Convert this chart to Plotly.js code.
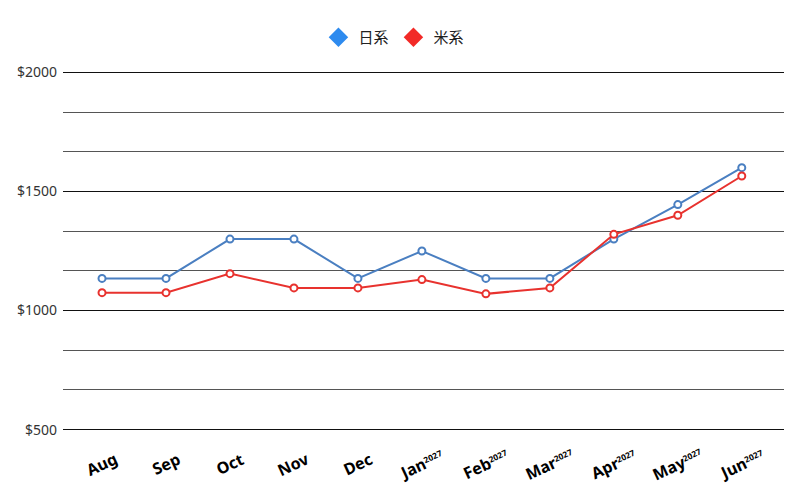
<!DOCTYPE html>
<html>
<head>
<meta charset="utf-8">
<script src="https://cdn.plot.ly/plotly-3.0.1.min.js"></script>
<style>
    html, body { margin: 0; padding: 0; background: #fff; }
    #chart { width: 800px; height: 500px; }
</style>
</head>
<body>
<div id="chart"></div>
<script>
// month categories and their printed labels
const months = ['Aug', 'Sep', 'Oct', 'Nov', 'Dec', 'Jan', 'Feb', 'Mar', 'Apr', 'May', 'Jun'];
const monthYears = ['', '', '', '', '', '2027', '2027', '2027', '2027', '2027', '2027'];

// series values ($)
const japanese = [1135, 1135, 1300, 1300, 1135, 1250, 1135, 1135, 1300, 1445, 1600];
const american = [1075, 1075, 1155, 1095, 1095, 1130, 1070, 1095, 1320, 1400, 1565];

const yTickVals = [500, 1000, 1500, 2000];
const yTickText = ['$500', '$1000', '$1500', '$2000'];

const LINE_BLUE = '#4a7fc1';
const LINE_RED = '#e8322e';
const KEY_BLUE = '#2e8bef';
const KEY_RED = '#f22a27';
const FONT = '"Noto Sans", "Noto Sans CJK JP", sans-serif';

function lineTrace(name, values, color) {
    return {
        type: 'scatter',
        mode: 'lines+markers',
        name: name,
        x: months,
        y: values,
        showlegend: false,
        line: { color: color, width: 2 },
        marker: { symbol: 'circle', size: 7, color: '#fff', line: { color: color, width: 2 } },
        hoverinfo: 'x+y'
    };
}

// legend-only entries, the key uses brighter diamonds than the lines
function keyTrace(name, color) {
    return {
        type: 'scatter',
        mode: 'markers',
        name: name,
        x: [null],
        y: [null],
        marker: { symbol: 'diamond', size: 15, color: color },
        hoverinfo: 'skip'
    };
}

const traces = [
    lineTrace('日系', japanese, LINE_BLUE),
    lineTrace('米系', american, LINE_RED),
    keyTrace('日系', KEY_BLUE),
    keyTrace('米系', KEY_RED)
];

function monthLabel(i) {
    const year = monthYears[i] ? '<span style="font-size:12px"><sup>' + monthYears[i] + '</sup></span>' : '';
    return '<b>' + months[i] + year + '</b>';
}

const labelNotes = months.map((m, i) => ({
    x: m,
    y: 0,
    xref: 'x',
    yref: 'paper',
    yanchor: 'middle',
    xanchor: 'center',
    yshift: -32,
    text: monthLabel(i),
    textangle: -25,
    showarrow: false,
    font: { family: FONT, size: 16, color: '#000' }
}));

const layout = {
    width: 800,
    height: 500,
    paper_bgcolor: '#fff',
    plot_bgcolor: '#fff',
    font: { family: FONT, color: '#333' },
    margin: { l: 63, r: 16, t: 70, b: 68 },
    showlegend: true,
    legend: {
        orientation: 'h',
        x: 0.459,
        xanchor: 'center',
        y: 1.09,
        yanchor: 'middle',
        font: { family: '"Noto Sans CJK JP", sans-serif', size: 15, color: '#222' },
        itemclick: false
    },
    xaxis: {
        type: 'category',
        range: [-0.61, 10.66],
        showgrid: false,
        zeroline: false,
        showline: false,
        showticklabels: false,
        ticks: ''
    },
    yaxis: {
        range: [490, 2010],
        tickmode: 'array',
        tickvals: yTickVals,
        ticktext: yTickText,
        showgrid: true,
        gridcolor: '#111',
        gridwidth: 1,
        minor: { tick0: 500, dtick: 500 / 3, showgrid: true, gridcolor: '#555', gridwidth: 1 },
        zeroline: false,
        showline: false,
        ticks: '',
        ticklabelstandoff: 5,
        tickfont: { family: FONT, size: 14, color: '#333' }
    },
    annotations: labelNotes
};

Plotly.newPlot('chart', traces, layout, { displayModeBar: false, staticPlot: true });
</script>
</body>
</html>
